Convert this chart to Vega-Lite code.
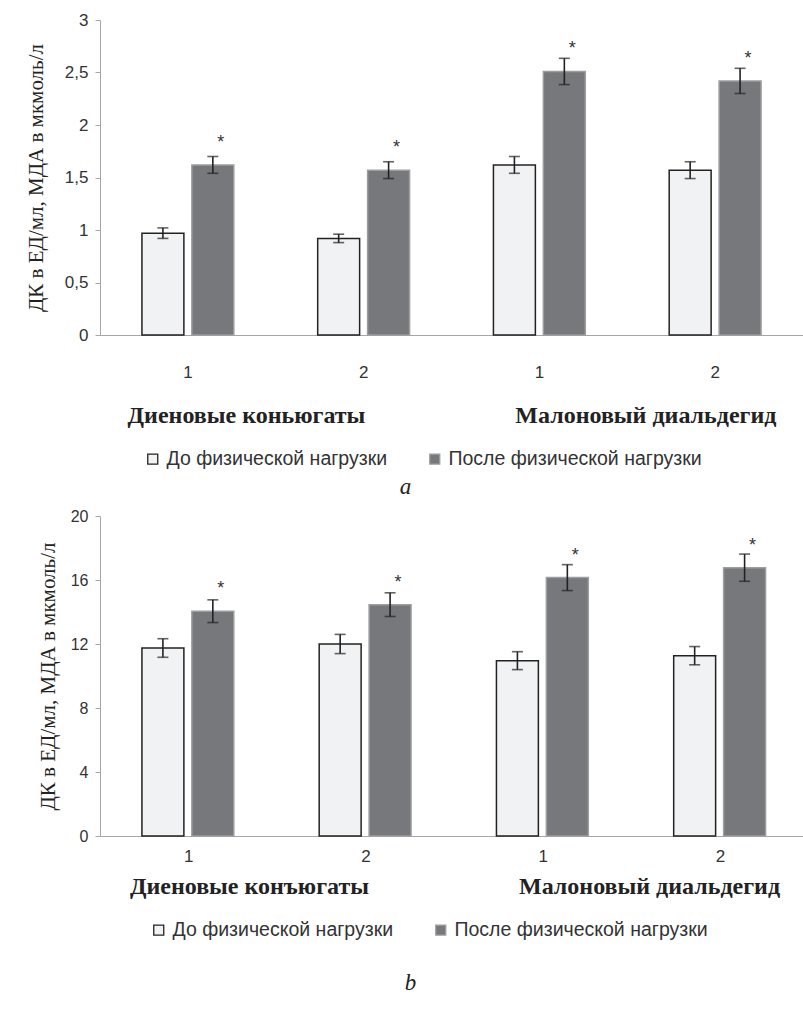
{
  "$schema": "https://vega.github.io/schema/vega-lite/v6.json",
  "padding": {"left": 25, "top": 11, "right": 0, "bottom": 0},
  "spacing": 9,
  "config": {
    "locale": {"number": {"decimal": ",", "thousands": " ", "grouping": [3], "currency": ["", " руб."]}},
    "view": {"stroke": null},
    "axis": {"grid": false, "domainColor": "#a6a6a6", "tickColor": "#a6a6a6", "labelFont": "Liberation Sans", "labelColor": "#333333", "labelFontSize": 17},
    "title": {"font": "Liberation Serif", "fontStyle": "italic", "fontWeight": "normal", "fontSize": 23, "color": "#222222", "anchor": "middle", "frame": "group"}
  },
  "resolve": {"scale": {"x": "independent", "y": "independent", "fill": "independent", "stroke": "independent"}},
  "vconcat": [
    {
      "width": 703,
      "height": 315,
      "title": {"text": "a", "orient": "bottom", "offset": 7, "dx": -46},
      "data": {"values": [
        {"cat": "a1", "grp": "До физической нагрузки", "value": 0.97, "err": 0.05, "sig": ""},
        {"cat": "a1", "grp": "После физической нагрузки", "value": 1.62, "err": 0.08, "sig": "*"},
        {"cat": "a2", "grp": "До физической нагрузки", "value": 0.92, "err": 0.04, "sig": ""},
        {"cat": "a2", "grp": "После физической нагрузки", "value": 1.57, "err": 0.08, "sig": "*"},
        {"cat": "b1", "grp": "До физической нагрузки", "value": 1.62, "err": 0.08, "sig": ""},
        {"cat": "b1", "grp": "После физической нагрузки", "value": 2.51, "err": 0.125, "sig": "*"},
        {"cat": "b2", "grp": "До физической нагрузки", "value": 1.57, "err": 0.08, "sig": ""},
        {"cat": "b2", "grp": "После физической нагрузки", "value": 2.42, "err": 0.12, "sig": "*"}
      ]},
      "encoding": {
        "x": {
          "field": "cat", "type": "nominal",
          "title": "Диеновые коньюгаты\u00a0\u00a0\u00a0\u00a0\u00a0\u00a0\u00a0\u00a0\u00a0\u00a0\u00a0\u00a0\u00a0\u00a0\u00a0\u00a0\u00a0\u00a0\u00a0\u00a0\u00a0\u00a0\u00a0\u00a0\u00a0Малоновый диальдегид",
          "scale": {"domain": ["a1", "a2", "b1", "b2"], "paddingInner": 0, "paddingOuter": 0},
          "axis": {"ticks": false, "labelAngle": 0, "labelPadding": 37, "labelBaseline": "middle", "labelExpr": "slice(datum.value, 1)",
            "titleFont": "Liberation Serif", "titleFontWeight": "bold", "titleFontSize": 24, "titleColor": "#222222", "titlePadding": 23}
        }
      },
      "layer": [
        {
          "mark": {"type": "bar", "strokeWidth": 1.5},
          "encoding": {
            "y": {"field": "value", "type": "quantitative", "title": "ДК в ЕД/мл, МДА в мкмоль/л", "scale": {"domain": [0, 3], "nice": false},
              "axis": {"values": [0, 0.5, 1, 1.5, 2, 2.5, 3], "format": "~g", "tickSize": 5, "labelPadding": 7, "labelOverlap": false,
                "titleFont": "Liberation Serif", "titleFontWeight": "normal", "titleFontSize": 21, "titleColor": "#222222", "titlePadding": 18}},
            "xOffset": {"field": "grp", "type": "nominal", "scale": {"paddingInner": 0.16, "paddingOuter": 0.84}},
            "fill": {"field": "grp", "type": "nominal", "scale": {"domain": ["До физической нагрузки", "После физической нагрузки"], "range": ["#f1f2f3", "#77787b"]},
              "legend": {"orient": "none", "legendX": 43, "legendY": 429, "direction": "horizontal", "title": null, "symbolType": "square", "symbolSize": 100, "symbolStrokeWidth": 1.3, "labelFont": "Liberation Sans", "labelFontSize": 19.5, "labelColor": "#333333", "labelOffset": 4, "columnPadding": 37, "padding": 0, "labelLimit": 400}},
            "stroke": {"field": "grp", "type": "nominal", "scale": {"domain": ["До физической нагрузки", "После физической нагрузки"], "range": ["#222222", "#9c9d9f"]},
              "legend": {"orient": "none", "legendX": 43, "legendY": 429, "direction": "horizontal", "title": null, "symbolType": "square", "symbolSize": 100, "symbolStrokeWidth": 1.3, "labelFont": "Liberation Sans", "labelFontSize": 19.5, "labelColor": "#333333", "labelOffset": 4, "columnPadding": 37, "padding": 0, "labelLimit": 400}}
          }
        },
        {
          "mark": {"type": "errorbar", "ticks": {"size": 11}, "thickness": 1.6, "color": "#222222"},
          "encoding": {
            "y": {"field": "value", "type": "quantitative", "title": "ДК в ЕД/мл, МДА в мкмоль/л"},
            "yError": {"field": "err"},
            "xOffset": {"field": "grp", "type": "nominal"}
          }
        },
        {
          "mark": {"type": "text", "font": "Liberation Sans", "fontSize": 18, "color": "#333333", "dx": 8, "dy": -22, "baseline": "middle"},
          "encoding": {
            "y": {"field": "value", "type": "quantitative", "title": "ДК в ЕД/мл, МДА в мкмоль/л"},
            "xOffset": {"field": "grp", "type": "nominal"},
            "text": {"field": "sig"}
          }
        }
      ]
    },
    {
      "width": 709,
      "height": 320,
      "title": {"text": "b", "orient": "bottom", "offset": 32, "dx": -44},
      "data": {"values": [
        {"cat": "a1", "grp": "До физической нагрузки", "value": 11.75, "err": 0.58, "sig": ""},
        {"cat": "a1", "grp": "После физической нагрузки", "value": 14.05, "err": 0.71, "sig": "*"},
        {"cat": "a2", "grp": "До физической нагрузки", "value": 12.0, "err": 0.6, "sig": ""},
        {"cat": "a2", "grp": "После физической нагрузки", "value": 14.46, "err": 0.74, "sig": "*"},
        {"cat": "b1", "grp": "До физической нагрузки", "value": 10.96, "err": 0.56, "sig": ""},
        {"cat": "b1", "grp": "После физической нагрузки", "value": 16.15, "err": 0.81, "sig": "*"},
        {"cat": "b2", "grp": "До физической нагрузки", "value": 11.27, "err": 0.57, "sig": ""},
        {"cat": "b2", "grp": "После физической нагрузки", "value": 16.77, "err": 0.85, "sig": "*"}
      ]},
      "encoding": {
        "x": {
          "field": "cat", "type": "nominal",
          "title": "Диеновые конъюгаты\u00a0\u00a0\u00a0\u00a0\u00a0\u00a0\u00a0\u00a0\u00a0\u00a0\u00a0\u00a0\u00a0\u00a0\u00a0\u00a0\u00a0\u00a0\u00a0\u00a0\u00a0\u00a0\u00a0\u00a0\u00a0Малоновый диальдегид",
          "scale": {"domain": ["a1", "a2", "b1", "b2"], "paddingInner": 0, "paddingOuter": 0},
          "axis": {"ticks": false, "labelAngle": 0, "labelPadding": 20, "labelBaseline": "middle", "labelExpr": "slice(datum.value, 1)",
            "titleFont": "Liberation Serif", "titleFontWeight": "bold", "titleFontSize": 24, "titleColor": "#222222", "titlePadding": 10}
        }
      },
      "layer": [
        {
          "mark": {"type": "bar", "strokeWidth": 1.5},
          "encoding": {
            "y": {"field": "value", "type": "quantitative", "title": "ДК в ЕД/мл, МДА в мкмоль/л", "scale": {"domain": [0, 20], "nice": false},
              "axis": {"values": [0, 2, 4, 6, 8, 10, 12, 14, 16, 18, 20], "tickSize": 5, "labelPadding": 7, "labelOverlap": false, "labelFontSize": 16,
                "titleFont": "Liberation Serif", "titleFontWeight": "normal", "titleFontSize": 21, "titleColor": "#222222", "titlePadding": 12}},
            "xOffset": {"field": "grp", "type": "nominal", "scale": {"paddingInner": 0.16, "paddingOuter": 0.84}},
            "fill": {"field": "grp", "type": "nominal", "scale": {"domain": ["До физической нагрузки", "После физической нагрузки"], "range": ["#f1f2f3", "#77787b"]},
              "legend": {"orient": "none", "legendX": 49, "legendY": 404, "direction": "horizontal", "title": null, "symbolType": "square", "symbolSize": 100, "symbolStrokeWidth": 1.3, "labelFont": "Liberation Sans", "labelFontSize": 19.5, "labelColor": "#333333", "labelOffset": 4, "columnPadding": 37, "padding": 0, "labelLimit": 400}},
            "stroke": {"field": "grp", "type": "nominal", "scale": {"domain": ["До физической нагрузки", "После физической нагрузки"], "range": ["#222222", "#9c9d9f"]},
              "legend": {"orient": "none", "legendX": 49, "legendY": 404, "direction": "horizontal", "title": null, "symbolType": "square", "symbolSize": 100, "symbolStrokeWidth": 1.3, "labelFont": "Liberation Sans", "labelFontSize": 19.5, "labelColor": "#333333", "labelOffset": 4, "columnPadding": 37, "padding": 0, "labelLimit": 400}}
          }
        },
        {
          "mark": {"type": "errorbar", "ticks": {"size": 11}, "thickness": 1.6, "color": "#222222"},
          "encoding": {
            "y": {"field": "value", "type": "quantitative", "title": "ДК в ЕД/мл, МДА в мкмоль/л"},
            "yError": {"field": "err"},
            "xOffset": {"field": "grp", "type": "nominal"}
          }
        },
        {
          "mark": {"type": "text", "font": "Liberation Sans", "fontSize": 18, "color": "#333333", "dx": 8, "dy": -22, "baseline": "middle"},
          "encoding": {
            "y": {"field": "value", "type": "quantitative", "title": "ДК в ЕД/мл, МДА в мкмоль/л"},
            "xOffset": {"field": "grp", "type": "nominal"},
            "text": {"field": "sig"}
          }
        }
      ]
    }
  ]
}
